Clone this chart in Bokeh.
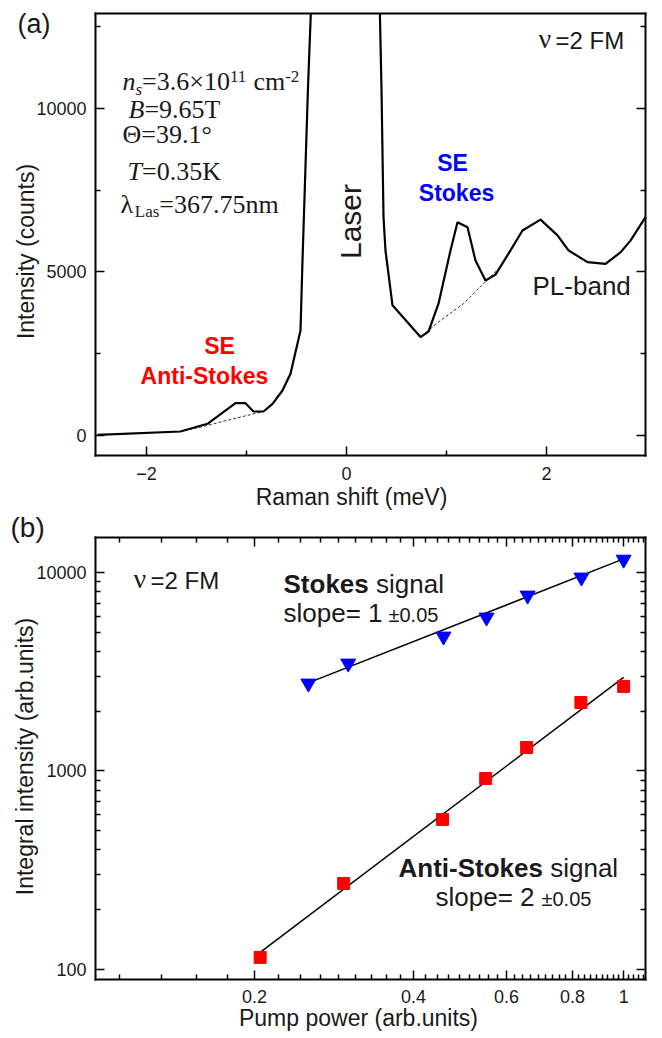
import math
from bokeh.plotting import figure
from bokeh.models import (Label, LinearAxis, LogAxis, FixedTicker,
                          CustomJSTickFormatter, BasicTickFormatter, Range1d)
from bokeh.layouts import column
from bokeh.embed import file_html
from bokeh.resources import INLINE

NAN = float("nan")

# ---------------- data : panel (a) Raman spectrum ----------------
# the laser line runs off the top of the scale; NaN splits the trace there
raman_shift = [-2.49, -1.66, -1.39, -1.11, -1.01, -0.93, -0.83, -0.74, -0.64, -0.56,
               -0.46, -0.44, -0.385, -0.357, 0.0, 0.334, 0.35, 0.37, 0.39, 0.46,
               0.74, 0.82, 0.92, 1.04, 1.11, 1.21, 1.29, 1.39, 1.49, 1.64,
               1.76, 1.94, 2.11, 2.22, 2.41, 2.59, 2.74, 2.84, 2.99]
intensity = [20, 122, 357, 988, 988, 734, 734, 969, 1376, 1887,
             3210, 5350, 10640, 12900, NAN, 12900, 10600, 6680, 5650, 3980,
             3010, 3180, 4030, 5660, 6520, 6370, 5350, 4740, 4920, 5660,
             6270, 6600, 6120, 5660, 5300, 5250, 5600, 5960, 6680]
antistokes_base_x = [-1.62, -1.46, -1.13, -0.83]
antistokes_base_y = [150, 255, 510, 734]
stokes_base_x = [0.76, 0.94, 1.17, 1.52]
stokes_base_y = [3060, 3520, 4030, 5100]

xticks_a = [-2, 0, 2]
xminor_a = [-1, 1]
yticks_a = [0, 5000, 10000]
yminor_a = [2500, 7500, 12500]

# ---------------- data : panel (b) power dependence ----------------
pump_stokes = [0.253, 0.301, 0.456, 0.55, 0.658, 0.832, 1.0]
int_stokes = [2760, 3480, 4760, 5935, 7660, 9440, 11620]
pump_anti = [0.205, 0.295, 0.454, 0.548, 0.655, 0.83, 1.0]
int_anti = [115, 271, 570, 916, 1313, 2213, 2667]
stokes_fit_x = [0.26, 1.0]
stokes_fit_y = [2860, 11700]
anti_fit_x = [0.205, 1.0]
anti_fit_y = [122, 2960]

xticks_b = [0.2, 0.4, 0.6, 0.8, 1.0]
xminor_b = [round(0.2 / 9 * k, 5) for k in range(5, 50) if k % 9 != 0]
yticks_b = [100, 1000, 10000]
yminor_b = [k * 10 ** e for e in (2, 3) for k in range(2, 10)]

SANS = "Liberation Sans"
SERIF = "Liberation Serif"
TXT = "#1a1a1a"
W = 662
H1 = 510           # height of panel (a) canvas
H2 = 1038 - H1     # height of panel (b) canvas
MID = 0.345        # em distance from the em-box middle down to the baseline


# ---------------- helpers ----------------
def lab(p, x, y, text, size, font=SANS, style="normal", color=TXT, align="left",
        baseline="alphabetic", angle=0.0, xo=0, yo=0):
    # horizontal texts are given by their baseline and drawn from the em-box middle
    if baseline == "alphabetic" and angle == 0:
        yo = yo + MID * size
        baseline = "middle"
    p.add_layout(Label(x=x, y=y, text=text, text_font_size=f"{size}px", text_font=font,
                       text_font_style=style, text_color=color, text_align=align,
                       text_baseline=baseline, angle=angle, x_offset=xo, y_offset=yo))


def runs(p, x, y, parts):
    # parts: (text, size, font, style, dy, advance_px)
    off = 0.0
    for text, size, font, style, dy, adv in parts:
        lab(p, x, y, text, size, font=font, style=style, xo=off, yo=dy)
        off += adv


def style_axis(axis, loc, bounds, standoff=9, blank=False, ticks=True):
    axis.fixed_location = loc
    axis.bounds = bounds
    axis.axis_line_width = 2
    axis.axis_line_color = "black"
    axis.axis_line_cap = "square"
    axis.major_tick_in = 9 if ticks else 0
    axis.major_tick_out = 0
    axis.minor_tick_in = 5 if ticks else 0
    axis.minor_tick_out = 0
    axis.major_tick_line_width = 1.5
    axis.minor_tick_line_width = 1.5
    axis.major_tick_line_color = "black" if ticks else None
    axis.minor_tick_line_color = "black" if ticks else None
    axis.major_label_text_font = SANS
    axis.major_label_text_color = TXT
    if blank:
        axis.formatter = CustomJSTickFormatter(code="return ''")
        axis.major_label_text_font_size = "1px"
        axis.major_label_standoff = 0
    else:
        axis.major_label_text_font_size = "18px"
        axis.major_label_standoff = standoff


def base_fig(p):
    p.xgrid.visible = False
    p.ygrid.visible = False
    p.outline_line_color = None
    p.background_fill_color = "white"
    p.border_fill_color = "white"


# ---------------- panel (a) ----------------
# visible box: x -2.51..2.99 at px 95..645, y -612..12905 at py 455..13
XA0, XA1 = -2.51, 2.99
YA0, YA1 = -612, 12905


def ax(px):
    return XA0 + (px - 95) / 550 * (XA1 - XA0)


def ay(py):
    return YA1 - (py - 13) / 442 * (YA1 - YA0)


p1 = figure(width=W, height=H1, x_range=Range1d(ax(0), ax(W)),
            y_range=Range1d(ay(H1), ay(0)), output_backend="svg",
            toolbar_location=None, min_border=0)
base_fig(p1)

p1.xaxis.ticker = FixedTicker(ticks=xticks_a, minor_ticks=xminor_a)
p1.xaxis.formatter = BasicTickFormatter(use_scientific=False)
style_axis(p1.xaxis[0], YA0, (XA0, XA1), standoff=11)
p1.yaxis.ticker = FixedTicker(ticks=yticks_a, minor_ticks=yminor_a)
p1.yaxis.formatter = BasicTickFormatter(use_scientific=False)
style_axis(p1.yaxis[0], XA0, (YA0, YA1), standoff=9)
r_ax = LinearAxis(ticker=FixedTicker(ticks=yticks_a, minor_ticks=yminor_a))
style_axis(r_ax, XA1, (YA0, YA1), blank=True)
p1.add_layout(r_ax, "right")
t_ax1 = LinearAxis(ticker=FixedTicker(ticks=[], minor_ticks=[]))
style_axis(t_ax1, YA1, (XA0, XA1), blank=True, ticks=False)
p1.add_layout(t_ax1, "above")

p1.line(antistokes_base_x, antistokes_base_y, line_color="#333333", line_width=1,
        line_dash="3 2")
p1.line(stokes_base_x, stokes_base_y, line_color="#333333", line_width=1,
        line_dash="3 2")
p1.line(raman_shift, intensity, line_color="black", line_width=2.2)

lab(p1, ax(17), ay(33), "(a)", 27)
lab(p1, ax(351), ay(504), "Raman shift (meV)", 23, align="center")
lab(p1, ax(33 - MID * 23), ay(251), "Intensity (counts)", 23, align="center",
    baseline="middle", angle=math.pi / 2)

runs(p1, ax(122), ay(90), [
    ("n", 26, SERIF, "italic", 0, 13),
    ("s", 17, SERIF, "italic", -5, 6.6),
    ("=3.6×10", 26, SERIF, "normal", 0, 87.8),
    ("11", 17, SERIF, "normal", 8, 17 + 6.5),
    ("cm", 26, SERIF, "normal", 0, 31.8),
    ("-2", 17, SERIF, "normal", 8, 14),
])
runs(p1, ax(128), ay(118), [
    ("B", 26, SERIF, "italic", 0, 15.9),
    ("=9.65T", 26, SERIF, "normal", 0, 80),
])
runs(p1, ax(122), ay(143), [("Θ=39.1°", 26, SERIF, "normal", 0, 90)])
runs(p1, ax(127), ay(180), [
    ("T", 26, SERIF, "italic", 0, 14.5),
    ("=0.35K", 26, SERIF, "normal", 0, 80),
])
runs(p1, ax(120), ay(213), [
    ("λ", 26, SERIF, "normal", 0, 14.3),
    ("Las", 17, SERIF, "normal", -4, 24.5),
    ("=367.75nm", 26, SERIF, "normal", 0, 120),
])

runs(p1, ax(538), ay(48), [
    ("ν", 28, SERIF, "normal", 0, 17),
    ("=2 FM", 24, SANS, "normal", 0, 70),
])
lab(p1, ax(532), ay(294), "PL-band", 26)
lab(p1, ax(350), ay(221), "Laser", 30, align="center", baseline="middle",
    angle=math.pi / 2)
lab(p1, ax(219), ay(353), "SE", 23, style="bold", color="#ff0000", align="center")
lab(p1, ax(204), ay(383), "Anti-Stokes", 23, style="bold", color="#ff0000",
    align="center")
lab(p1, ax(452), ay(170), "SE", 23, style="bold", color="#0000ff", align="center")
lab(p1, ax(456), ay(200), "Stokes", 23, style="bold", color="#0000ff", align="center")

# ---------------- panel (b) ----------------
# visible box: x 0.1..1.1 at px 95..645, y 89..15000 at absolute py 979..537
XB0, XB1 = 0.1, 1.1
YB0, YB1 = 89, 15000


def bx(px):
    lx0, lx1 = math.log10(XB0), math.log10(XB1)
    return 10 ** (lx0 + (px - 95) / 550 * (lx1 - lx0))


def by(py):  # py measured from the top of the whole picture
    ly0, ly1 = math.log10(YB0), math.log10(YB1)
    return 10 ** (ly1 - (py - 537) / 442 * (ly1 - ly0))


p2 = figure(width=W, height=H2, x_axis_type="log", y_axis_type="log",
            x_range=Range1d(bx(0), bx(W)), y_range=Range1d(by(1038), by(H1)),
            output_backend="svg", toolbar_location=None, min_border=0)
base_fig(p2)

xfmt = CustomJSTickFormatter(code="return String(Math.round(tick * 10) / 10)")
p2.xaxis.ticker = FixedTicker(ticks=xticks_b, minor_ticks=xminor_b)
p2.xaxis.formatter = xfmt
style_axis(p2.xaxis[0], YB0, (XB0, XB1), standoff=10)
p2.yaxis.ticker = FixedTicker(ticks=yticks_b, minor_ticks=yminor_b)
p2.yaxis.formatter = BasicTickFormatter(use_scientific=False)
style_axis(p2.yaxis[0], XB0, (YB0, YB1), standoff=9)
t_ax = LogAxis(ticker=FixedTicker(ticks=xticks_b, minor_ticks=xminor_b))
style_axis(t_ax, YB1, (XB0, XB1), blank=True)
p2.add_layout(t_ax, "above")
r_ax2 = LogAxis(ticker=FixedTicker(ticks=yticks_b, minor_ticks=yminor_b))
style_axis(r_ax2, XB1, (YB0, YB1), blank=True)
p2.add_layout(r_ax2, "right")

p2.line(stokes_fit_x, stokes_fit_y, line_color="black", line_width=1.5)
p2.line(anti_fit_x, anti_fit_y, line_color="black", line_width=1.5)
p2.scatter(pump_stokes, int_stokes, marker="inverted_triangle", size=15,
           fill_color="#0000ff", line_color="#0000ff")
p2.scatter(pump_anti, int_anti, marker="square", size=12,
           fill_color="#ff0000", line_color="#ff0000")

lab(p2, bx(10), by(537), "(b)", 28)
lab(p2, bx(358), by(1025), "Pump power (arb.units)", 23, align="center")
lab(p2, bx(32 - MID * 23), by(756), "Integral intensity (arb.units)", 23,
    align="center", baseline="middle", angle=math.pi / 2)
runs(p2, bx(133), by(588), [
    ("ν", 28, SERIF, "normal", 0, 17),
    ("=2 FM", 24, SANS, "normal", 0, 70),
])
runs(p2, bx(283), by(592), [
    ("Stokes", 26, SANS, "bold", 0, 85.3 + 7.2),
    ("signal", 26, SANS, "normal", 0, 70),
])
runs(p2, bx(283), by(621), [
    ("slope= 1", 26, SANS, "normal", 0, 105),
    ("±0.05", 20, SANS, "normal", 0, 60),
])
runs(p2, bx(398), by(876), [
    ("Anti-Stokes", 26, SANS, "bold", 0, 144.5 + 7.2),
    ("signal", 26, SANS, "normal", 0, 70),
])
runs(p2, bx(435), by(905), [
    ("slope= 2", 26, SANS, "normal", 0, 106),
    ("±0.05", 20, SANS, "normal", 0, 60),
])

layout = column(p1, p2)
open("out.html", "w", encoding="utf-8").write(file_html(layout, INLINE))
